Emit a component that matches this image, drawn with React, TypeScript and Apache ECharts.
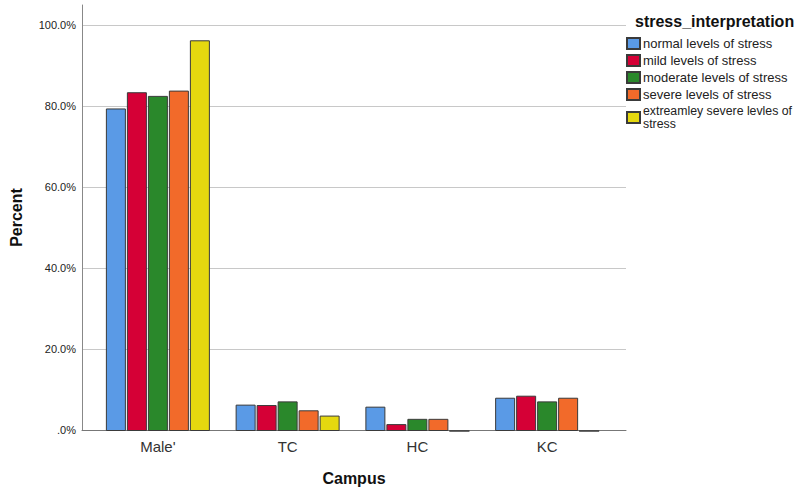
import React, { useEffect, useRef } from "react";
import * as echarts from "echarts";

const campuses = ["Male'", "TC", "HC", "KC"];
const seriesNames = [
  "normal levels of stress",
  "mild levels of stress",
  "moderate levels of stress",
  "severe levels of stress",
  "extreamley severe levles of stress",
];
const normalLevels = [79.5, 6.5, 6.0, 8.2];
const mildLevels = [83.5, 6.4, 1.7, 8.7];
const moderateLevels = [82.6, 7.3, 3.0, 7.3];
const severeLevels = [83.9, 5.1, 3.0, 8.2];
const extremeLevels = [96.3, 3.8, 0, 0];
const yTicks = [0, 20, 40, 60, 80, 100];

const seriesValues = [normalLevels, mildLevels, moderateLevels, severeLevels, extremeLevels];
const colors = ["#5a9ae6", "#d50036", "#2a882b", "#f26a2a", "#e5d80f"];

export default function App() {
  const ref = useRef<HTMLDivElement>(null);
  useEffect(() => {
    const chart = echarts.init(ref.current!, null, { renderer: "svg" });
    const font = "'Liberation Sans', Arial, sans-serif";
    chart.setOption({
      animation: false,
      backgroundColor: "#ffffff",
      textStyle: { fontFamily: font },
      title: {
        text: "stress_interpretation",
        left: 630,
        top: 8,
        textStyle: { fontSize: 16, fontWeight: "bold", color: "#111", fontFamily: font },
      },
      legend: {
        data: seriesNames,
        orient: "vertical",
        left: 626,
        top: 37,
        padding: 0,
        itemWidth: 13,
        itemHeight: 11,
        itemGap: 4,
        icon: "rect",
        textStyle: {
          fontSize: 13,
          color: "#222",
          lineHeight: 13,
          padding: [0, 0, 0, -2],
          rich: { s: { fontSize: 12.3, lineHeight: 12.5, color: "#222" } },
        },
        formatter: (name: string) =>
          name === "extreamley severe levles of stress"
            ? "{s|extreamley severe levles of}\n{s|stress}"
            : name,
      },
      grid: [
        { left: 78, right: 173, top: 5, bottom: 60 },
        { left: 93, right: 187, top: 5, bottom: 60 },
      ],
      xAxis: [
        {
          gridIndex: 0,
          type: "category",
          data: [""],
          axisLine: { show: true, lineStyle: { color: "#777", width: 1 } },
          axisTick: { show: false },
          axisLabel: { show: false },
          splitLine: { show: false },
          name: "Campus",
          nameLocation: "middle",
          nameGap: 40,
          nameTextStyle: { fontSize: 16, fontWeight: "bold", color: "#111" },
        },
        {
          gridIndex: 1,
          type: "category",
          data: campuses,
          axisLine: { show: false },
          axisTick: { show: false },
          axisLabel: { fontSize: 15, color: "#333", margin: 8 },
        },
      ],
      yAxis: [
        {
          gridIndex: 0,
          type: "value",
          min: 0,
          max: 105,
          interval: 20,
          axisLine: { show: true, lineStyle: { color: "#888", width: 1 } },
          axisTick: { show: false },
          splitLine: { show: true, showMaxLine: false, lineStyle: { color: "#c8c8c8", width: 1 } },
          axisLabel: {
            fontSize: 11,
            color: "#222",
            margin: 6,
            showMaxLabel: false,
            formatter: (v: number) => (yTicks.includes(v) ? (v === 0 ? ".0%" : v.toFixed(1) + "%") : ""),
          },
          name: "Percent",
          nameLocation: "middle",
          nameGap: 58,
          nameTextStyle: { fontSize: 16, fontWeight: "bold", color: "#111" },
        },
        {
          gridIndex: 1,
          type: "value",
          min: 0,
          max: 105,
          interval: 20,
          show: false,
        },
      ],
      series: seriesNames.map((name, i) => ({
        name,
        type: "bar",
        xAxisIndex: 1,
        yAxisIndex: 1,
        data: seriesValues[i],
        barWidth: 20,
        barGap: "5%",
        itemStyle: { color: colors[i], borderColor: "#3a3a3a", borderWidth: 1 },
      })),
    });
    return () => chart.dispose();
  }, []);
  return <div ref={ref} style={{ position: "fixed", left: 0, top: 0, width: 799, height: 491 }} />;
}
